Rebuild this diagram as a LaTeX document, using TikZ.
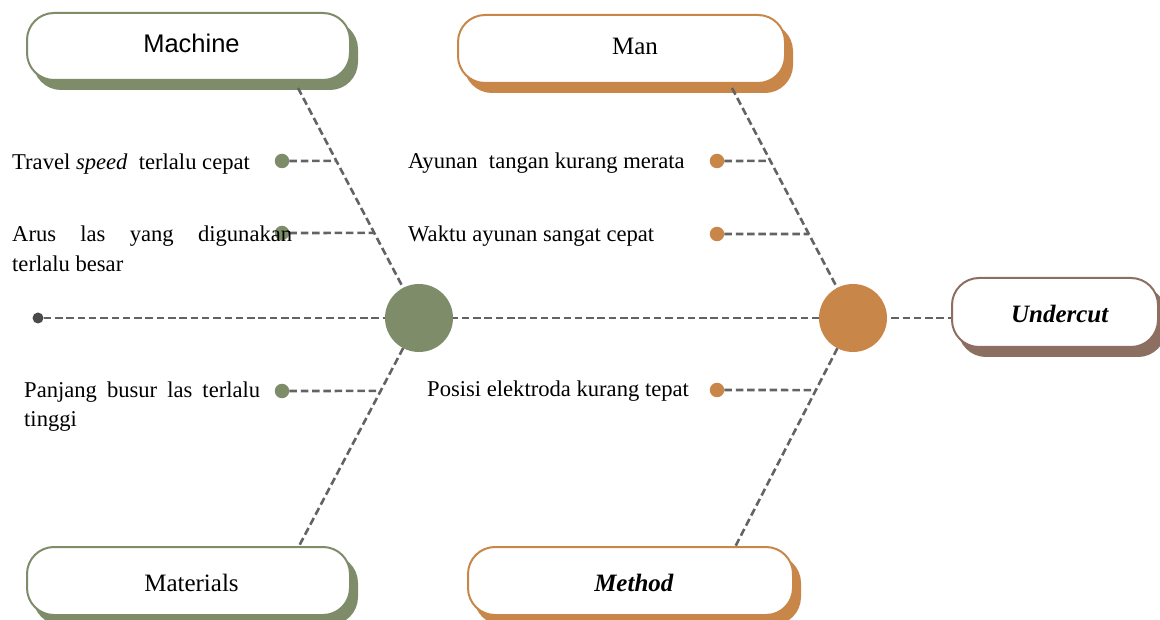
\documentclass[tikz,border=0pt]{standalone}
\usepackage{fontspec}
\setmainfont{Liberation Serif}
\newfontfamily\sansfont{Liberation Sans}
\usetikzlibrary{calc,shadows}
\definecolor{sage}{HTML}{7E8C6A}
\definecolor{ochre}{HTML}{C88749}
\definecolor{umber}{HTML}{8C6F61}
\definecolor{linegray}{HTML}{636363}
\definecolor{dotgray}{HTML}{4A4A4A}
\begin{document}
\begin{tikzpicture}[x=1pt,y=-1pt,
  dashline/.style={draw=linegray, line width=2.6pt, dash pattern=on 7.5pt off 3.8pt},
  catbox/.style 2 args={draw=#1, fill=white, line width=2pt, rounded corners=27pt,
    inner sep=0pt,
    copy shadow={fill=#2, draw=#2, shadow xshift=7pt, shadow yshift=-9pt}},
  hub/.style={circle, fill=#1, minimum size=68pt, inner sep=0pt},
  bullet/.style={circle, fill=#1, minimum size=14.5pt, inner sep=0pt},
  cause/.style={anchor=base west, inner sep=0pt, font=\fontsize{22.6pt}{30pt}\selectfont},
  title/.style={anchor=base, inner sep=0pt, font=\fontsize{25pt}{30pt}\selectfont},
]
\useasboundingbox (0,0) rectangle (1160,620);

% spine and bone end points
\node[bullet=dotgray, minimum size=11pt] (tail) at (38,318) {};
\coordinate (gcc) at (419,318);
\coordinate (occ) at (853,318);
\coordinate (mt) at (298,88);
\coordinate (mb) at (298,548);
\coordinate (nt) at (732,88);
\coordinate (nb) at (734,549);

% category boxes
\node[catbox={sage}{sage}, minimum width=323pt, minimum height=67pt] (machine) at (188.5,46.5) {};
\node[catbox={ochre}{ochre}, minimum width=327pt, minimum height=68pt] (man) at (621.5,49) {};
\node[catbox={sage}{sage}, minimum width=323pt, minimum height=68pt] (materials) at (188.5,581) {};
\node[catbox={ochre}{ochre}, minimum width=325pt, minimum height=68pt] (method) at (630.5,581) {};
\node[catbox={umber}{umber}, minimum width=206pt, minimum height=69pt] (effect) at (1055,312.5) {};

\node[title, font=\sansfont\fontsize{25.5pt}{30pt}\selectfont] (machine-t) at (191.5,53) {Machine};
\node[title] (man-t) at (635,55) {Man};
\node[title] (materials-t) at (191.5,591.7) {Materials};
\node[title] (method-t) at (634,591.7) {\textbf{\textit{Method}}};
\node[title] (effect-t) at (1060,322.7) {\textbf{\textit{Undercut}}};

% bones
\draw[dashline] (tail) -- (gcc) -- (occ) -- (occ -| effect.west);
\draw[dashline] (mt) -- (gcc) -- (mb);
\draw[dashline] (nt) -- (occ) -- (nb);

% branch points on the bones
\coordinate (b1) at ($(mt)!0.317!(gcc)$);
\coordinate (b2) at ($(mt)!0.630!(gcc)$);
\coordinate (b3) at ($(gcc)!0.317!(mb)$);
\coordinate (c1) at ($(nt)!0.317!(occ)$);
\coordinate (c2) at ($(nt)!0.635!(occ)$);
\coordinate (c3) at ($(occ)!0.312!(nb)$);

% cause bullets
\node[bullet=sage] (d1) at (282,161) {};
\node[bullet=sage] (d2) at (282,233) {};
\node[bullet=sage] (d3) at (282,391) {};
\node[bullet=ochre] (e1) at (717,161) {};
\node[bullet=ochre] (e2) at (717,234) {};
\node[bullet=ochre] (e3) at (717,390) {};

\draw[dashline] (d1) -- (b1);
\draw[dashline] (d2) -- (b2);
\draw[dashline] (d3) -- (b3);
\draw[dashline] (e1) -- (c1);
\draw[dashline] (e2) -- (c2);
\draw[dashline] (e3) -- (c3);

% hubs
\node[hub=sage] (gc) at (gcc) {};
\node[hub=ochre] (oc) at (occ) {};

% cause texts
\node[cause] (l1) at (12,170) {Travel \textit{speed}\ \ terlalu cepat};
\node[cause] (l2) at (12,241.5) {\parbox[t]{280pt}{\baselineskip=30pt\makebox[280pt][s]{Arus las yang digunakan}\\terlalu besar}};
\node[cause] (l3) at (24,397.5) {\parbox[t]{236pt}{\baselineskip=29pt\makebox[236pt][s]{Panjang busur las terlalu}\\tinggi}};
\node[cause] (r1) at (408,168.5) {Ayunan\ \ tangan kurang merata};
\node[cause] (r2) at (408,241.5) {Waktu ayunan sangat cepat};
\node[cause] (r3) at (427,397) {Posisi elektroda kurang tepat};
\end{tikzpicture}
\end{document}
